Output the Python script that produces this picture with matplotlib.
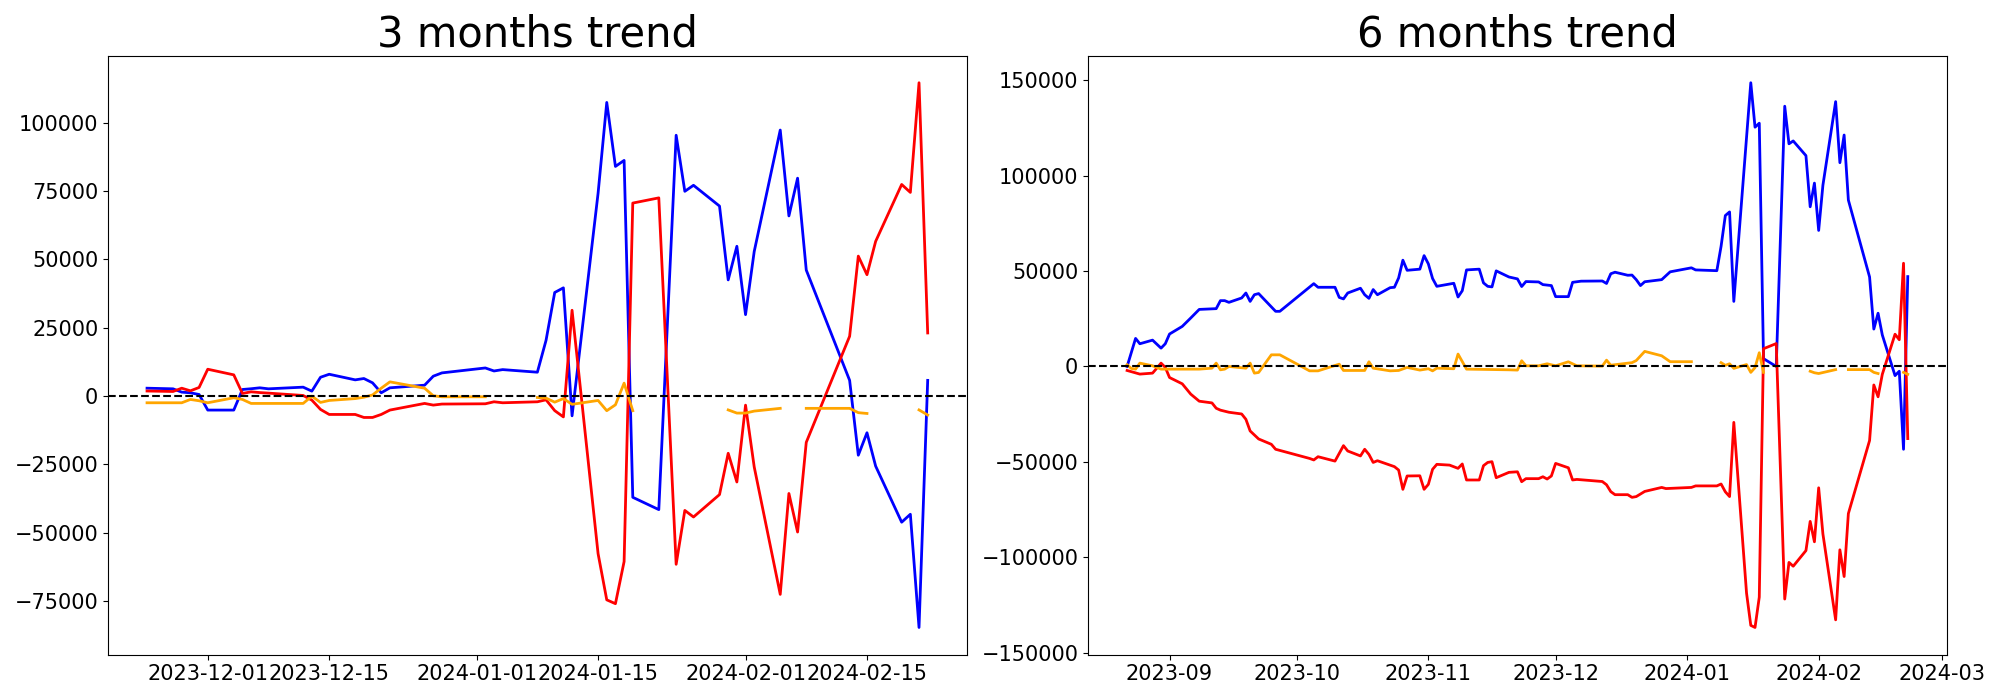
import numpy as np
import pandas as pd
import matplotlib
matplotlib.use("Agg")
import matplotlib.pyplot as plt

# ---- 3 months trend (all series share the same dates, orange has gaps) ----
left_dates = ["2023-11-24", "2023-11-27", "2023-11-28", "2023-11-29", "2023-11-30",
              "2023-12-01", "2023-12-04", "2023-12-05", "2023-12-06", "2023-12-07",
              "2023-12-08", "2023-12-12", "2023-12-13", "2023-12-14", "2023-12-15",
              "2023-12-18", "2023-12-19", "2023-12-20", "2023-12-21", "2023-12-22",
              "2023-12-26", "2023-12-27", "2023-12-28", "2024-01-02", "2024-01-03",
              "2024-01-04", "2024-01-08", "2024-01-09", "2024-01-10", "2024-01-11",
              "2024-01-12", "2024-01-15", "2024-01-16", "2024-01-17", "2024-01-18",
              "2024-01-19", "2024-01-22", "2024-01-24", "2024-01-25", "2024-01-26",
              "2024-01-29", "2024-01-30", "2024-01-31", "2024-02-01", "2024-02-02",
              "2024-02-05", "2024-02-06", "2024-02-07", "2024-02-08", "2024-02-13",
              "2024-02-14", "2024-02-15", "2024-02-16", "2024-02-19", "2024-02-20",
              "2024-02-21", "2024-02-22"]
left_blue = [2900, 2670, 1460, 1215, 600,
             -5100, -5100, 2430, 2700, 3040,
             2670, 3280, 1820, 6900, 8000,
             5950, 6440, 4860, 1215, 3040,
             4000, 7290, 8500, 10300, 9200,
             9700, 8750, 20400, 37900, 39600,
             -7200, 74200, 107400, 84000, 86200,
             -37000, -41500, 95400, 74900, 77100,
             69500, 42500, 54800, 29800, 52900,
             97300, 65900, 79700, 46100, 5760,
             -21600, -13400, -25600, -46100, -43200,
             -84600, 5760]
left_red = [1870, 1700, 2900, 1940, 3160,
            9840, 7780, 970, 1580, 1300,
            1100, 240, -1460, -4860, -6700,
            -6700, -7800, -7800, -6700, -5100,
            -2670, -3280, -2900, -2800, -2070,
            -2430, -2070, -1340, -5300, -7600,
            31400, -57600, -74500, -75900, -60500,
            70600, 72500, -61500, -41800, -44200,
            -36000, -20900, -31400, -3300, -25900,
            -72500, -35600, -49700, -16900, 21900,
            51200, 44400, 56600, 77400, 74500,
            114600, 23100]
left_orange = [-2430, -2430, -2430, -1215, -1700,
               -2430, -600, -1215, -2670, -2670,
               -2670, -2670, 0, -2300, -1580,
               -900, -400, 430, 2900, 5220,
               2900, 120, -240, -240, np.nan,
               np.nan, -500, -730, -2200, -900,
               -3000, -1580, -5330, -3170, 4750,
               -5330, np.nan, np.nan, np.nan, np.nan,
               np.nan, -5040, -6200, -6200, -5470,
               -4470, np.nan, np.nan, -4470, -4470,
               -6050, -6340, np.nan, np.nan, np.nan,
               -5040, -6900]

# ---- 6 months trend (each series with its own dates) ----
right_blue_dates = ["2023-08-22", "2023-08-24", "2023-08-25", "2023-08-28", "2023-08-30",
                    "2023-08-31", "2023-09-01", "2023-09-04", "2023-09-06", "2023-09-08",
                    "2023-09-12", "2023-09-13", "2023-09-14", "2023-09-15", "2023-09-18",
                    "2023-09-19", "2023-09-20", "2023-09-21", "2023-09-22", "2023-09-26",
                    "2023-09-27", "2023-10-05", "2023-10-06", "2023-10-10", "2023-10-11",
                    "2023-10-12", "2023-10-13", "2023-10-16", "2023-10-17", "2023-10-18",
                    "2023-10-19", "2023-10-20", "2023-10-23", "2023-10-24", "2023-10-25",
                    "2023-10-26", "2023-10-27", "2023-10-30", "2023-10-31", "2023-11-01",
                    "2023-11-02", "2023-11-03", "2023-11-07", "2023-11-08", "2023-11-09",
                    "2023-11-10", "2023-11-13", "2023-11-14", "2023-11-15", "2023-11-16",
                    "2023-11-17", "2023-11-20", "2023-11-22", "2023-11-23", "2023-11-24",
                    "2023-11-27", "2023-11-28", "2023-11-30", "2023-12-01", "2023-12-04",
                    "2023-12-05", "2023-12-07", "2023-12-12", "2023-12-13", "2023-12-14",
                    "2023-12-15", "2023-12-18", "2023-12-19", "2023-12-20", "2023-12-21",
                    "2023-12-22", "2023-12-26", "2023-12-28", "2024-01-02", "2024-01-03",
                    "2024-01-08", "2024-01-09", "2024-01-10", "2024-01-11", "2024-01-12",
                    "2024-01-16", "2024-01-17", "2024-01-18", "2024-01-19", "2024-01-22",
                    "2024-01-24", "2024-01-25", "2024-01-26", "2024-01-29", "2024-01-30",
                    "2024-01-31", "2024-02-01", "2024-02-02", "2024-02-05", "2024-02-06",
                    "2024-02-07", "2024-02-08", "2024-02-13", "2024-02-14", "2024-02-15",
                    "2024-02-16", "2024-02-19", "2024-02-20", "2024-02-21", "2024-02-22"]
right_blue = [0, 14700, 11900, 13800, 9600,
              11900, 17000, 21000, 25400, 29900,
              30300, 34500, 34500, 33600, 35900,
              38500, 34100, 37600, 38200, 28900,
              28900, 43400, 41500, 41500, 36200,
              35400, 38500, 41000, 37600, 35700,
              40300, 37600, 41300, 41500, 46400,
              55700, 50400, 51000, 58100, 53800,
              46100, 42000, 43600, 36400, 39700,
              50600, 51000, 43800, 42000, 41700,
              50100, 46900, 45900, 41900, 44500,
              44300, 42900, 42400, 36600, 36600,
              44100, 44700, 44800, 43500, 48600,
              49400, 47800, 47900, 45500, 42400,
              44400, 45500, 49600, 51700, 50600,
              50200, 63000, 79100, 81000, 34100,
              148700, 125400, 127500, 4100, 0,
              136400, 116700, 118200, 110500, 83700,
              96100, 71300, 95000, 138800, 106800,
              121300, 87200, 46900, 19600, 27900,
              16500, -4800, -2500, -43400, 47100]

right_red_dates = ["2023-08-22", "2023-08-25", "2023-08-28", "2023-08-29", "2023-08-30",
                   "2023-08-31", "2023-09-01", "2023-09-04", "2023-09-06", "2023-09-08",
                   "2023-09-11", "2023-09-12", "2023-09-13", "2023-09-15", "2023-09-18",
                   "2023-09-19", "2023-09-20", "2023-09-22", "2023-09-25", "2023-09-26",
                   "2023-10-04", "2023-10-05", "2023-10-06", "2023-10-10", "2023-10-12",
                   "2023-10-13", "2023-10-16", "2023-10-17", "2023-10-18", "2023-10-19",
                   "2023-10-20", "2023-10-24", "2023-10-25", "2023-10-26", "2023-10-27",
                   "2023-10-30", "2023-10-31", "2023-11-01", "2023-11-02", "2023-11-03",
                   "2023-11-06", "2023-11-08", "2023-11-09", "2023-11-10", "2023-11-13",
                   "2023-11-14", "2023-11-15", "2023-11-16", "2023-11-17", "2023-11-20",
                   "2023-11-22", "2023-11-23", "2023-11-24", "2023-11-27", "2023-11-28",
                   "2023-11-29", "2023-11-30", "2023-12-01", "2023-12-04", "2023-12-05",
                   "2023-12-06", "2023-12-12", "2023-12-13", "2023-12-14", "2023-12-15",
                   "2023-12-18", "2023-12-19", "2023-12-20", "2023-12-22", "2023-12-26",
                   "2023-12-27", "2024-01-02", "2024-01-03", "2024-01-08", "2024-01-09",
                   "2024-01-10", "2024-01-11", "2024-01-12", "2024-01-15", "2024-01-16",
                   "2024-01-17", "2024-01-18", "2024-01-19", "2024-01-22", "2024-01-24",
                   "2024-01-25", "2024-01-26", "2024-01-29", "2024-01-30", "2024-01-31",
                   "2024-02-01", "2024-02-02", "2024-02-05", "2024-02-06", "2024-02-07",
                   "2024-02-08", "2024-02-13", "2024-02-14", "2024-02-15", "2024-02-16",
                   "2024-02-19", "2024-02-20", "2024-02-21", "2024-02-22"]
right_red = [-2100, -4000, -3500, -900, 1750,
             -500, -5800, -9100, -14500, -18200,
             -19100, -21900, -22900, -24000, -24900,
             -27700, -33800, -38000, -40800, -43400,
             -48200, -49000, -47300, -49600, -41500,
             -44300, -46900, -43400, -46100, -50300,
             -49400, -52500, -54300, -64400, -57400,
             -57300, -64400, -61800, -53900, -51300,
             -51700, -53400, -51100, -59500, -59500,
             -52000, -50300, -49900, -58300, -55500,
             -55200, -60400, -58800, -58800, -57800,
             -59000, -57400, -50800, -53100, -59500,
             -59200, -60300, -62000, -65600, -67200,
             -67200, -68600, -68200, -65500, -63400,
             -64000, -63400, -62600, -62600, -61600,
             -65700, -68200, -29300, -118800, -135700,
             -136800, -120900, 9300, 12000, -121900,
             -102700, -104700, -96500, -81200, -91900,
             -63600, -87800, -132800, -96100, -110100,
             -77100, -38800, -9700, -15900, -4100,
             16900, 14000, 54100, -37800]

right_orange_dates = ["2023-08-22", "2023-08-23", "2023-08-24", "2023-08-25", "2023-08-28",
                      "2023-08-30", "2023-09-08", "2023-09-11", "2023-09-12", "2023-09-13",
                      "2023-09-14", "2023-09-15", "2023-09-19", "2023-09-20", "2023-09-21",
                      "2023-09-22", "2023-09-25", "2023-09-27", "2023-10-04", "2023-10-06",
                      "2023-10-11", "2023-10-12", "2023-10-17", "2023-10-18", "2023-10-19",
                      "2023-10-23", "2023-10-25", "2023-10-27", "2023-10-30", "2023-11-01",
                      "2023-11-02", "2023-11-03", "2023-11-07", "2023-11-08", "2023-11-10",
                      "2023-11-20", "2023-11-22", "2023-11-23", "2023-11-24", "2023-11-27",
                      "2023-11-29", "2023-12-01", "2023-12-04", "2023-12-06", "2023-12-12",
                      "2023-12-13", "2023-12-14", "2023-12-19", "2023-12-20", "2023-12-22",
                      "2023-12-26", "2023-12-28", "2024-01-02", "2024-01-04", "2024-01-09",
                      "2024-01-10", "2024-01-11", "2024-01-12", "2024-01-15", "2024-01-16",
                      "2024-01-17", "2024-01-18", "2024-01-19", "2024-01-22", "2024-01-30",
                      "2024-01-31", "2024-02-01", "2024-02-05", "2024-02-06", "2024-02-08",
                      "2024-02-13", "2024-02-14", "2024-02-15", "2024-02-16", "2024-02-21",
                      "2024-02-22"]
right_orange = [900, -1050, -1400, 1750, 350,
                -1400, -1400, -900, 1750, -1750,
                -1400, 0, -900, 1750, -3500,
                -3150, 6100, 6100, -2300, -2300,
                1200, -2100, -2100, 2450, -900,
                -2300, -2100, -500, -1900, -1200,
                -2300, -900, -1200, 6500, -1400,
                -1750, -1900, 3000, 350, 350,
                1400, 350, 2450, 350, 200,
                3300, 650, 2000, 3100, 7900,
                5600, 2500, 2500, np.nan, 2000,
                600, 1400, -1000, 1000, -3100,
                -600, 7200, -3100, np.nan, -2500,
                -3300, -3700, -1650, np.nan, -1650,
                -1650, -3100, -3700, np.nan, -3100,
                -4100]

panels = [
    ("3 months trend",
     [(left_dates, left_blue, "blue"), (left_dates, left_red, "red"),
      (left_dates, left_orange, "orange")]),
    ("6 months trend",
     [(right_blue_dates, right_blue, "blue"), (right_red_dates, right_red, "red"),
      (right_orange_dates, right_orange, "orange")]),
]

fig, axes = plt.subplots(1, 2, figsize=(20, 7), dpi=100)
fig.subplots_adjust(left=0.054, right=0.9734, bottom=0.0647, top=0.9207, wspace=0.1413)

for ax, (title, series) in zip(axes, panels):
    for dates, values, color in series:
        ax.plot(pd.to_datetime(dates), values, color=color, linewidth=2)
    ax.axhline(0, color="black", linestyle="--", linewidth=1.5)
    ax.set_title(title, fontsize=30)
    ax.tick_params(labelsize=15)

fig.savefig("out.png")
